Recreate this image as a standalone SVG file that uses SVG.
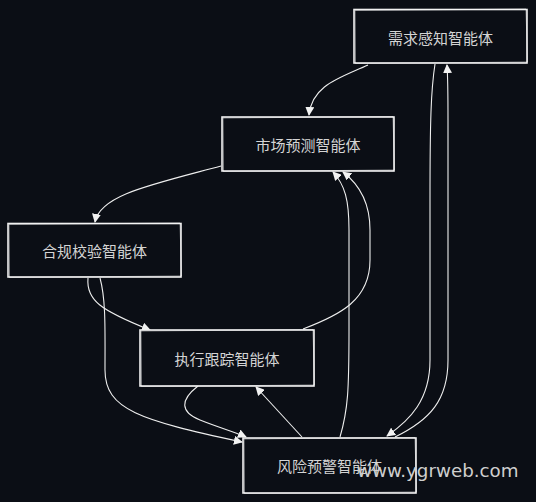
<svg xmlns="http://www.w3.org/2000/svg" width="536" height="502" viewBox="0 0 536 502">
<defs>
<marker id="arr" viewBox="0 0 10 10" refX="9" refY="5" markerWidth="9" markerHeight="9" markerUnits="userSpaceOnUse" orient="auto">
<path d="M0 0 L10 5 L0 10 Z" fill="#f2f2f2"/>
</marker>
<style>
.box{fill:#0b0e15;stroke:#f0f0f0;stroke-width:1.6}
.box2{fill:none;stroke:#ffffff;stroke-width:0.8;opacity:0.6}
.lbl{font-family:"Noto Sans CJK SC","Noto Sans",sans-serif;font-size:15px;fill:#d4d4d4;text-anchor:middle;dominant-baseline:central}
.edge{fill:none;stroke:#eeeeee;stroke-width:1.1;marker-end:url(#arr)}
.wm{font-family:"DejaVu Sans","Liberation Sans",sans-serif;font-size:18.3px;fill:#cfcfcf}
</style>
</defs>
<rect x="0" y="0" width="536" height="502" fill="#0b0e15"/>
<g id="connectors">
<path class="edge" d="M368 65 C 340 78, 312 85, 309 115"/>
<path class="edge" d="M221 166 C 150 185, 100 195, 95 222"/>
<path class="edge" d="M88 278 C 86 300, 100 310, 150 330"/>
<path class="edge" d="M100 278 C 106 300, 105 330, 105 370 C 105 410, 140 420, 242 442"/>
<path class="edge" d="M198 386 C 180 400, 180 412, 200 420 C 220 428, 235 432, 246 437"/>
<path class="edge" d="M302 437 L 256 387"/>
<path class="edge" d="M340 437 C 348 410, 349 390, 349 330 L 349 230 C 349 200, 345 185, 333 172"/>
<path class="edge" d="M303 329 C 340 315, 370 300, 370 260 L 370 230 C 370 205, 360 185, 343 172"/>
<path class="edge" d="M435 64 C 431 90, 430 120, 430 200 L 430 360 C 430 400, 410 420, 387 436"/>
<path class="edge" d="M395 437 C 430 420, 448 400, 448 360 L 448 120 C 448 95, 448 80, 447 65"/>
</g>
<g id="n1">
<rect class="box" x="354" y="9.5" width="173" height="53.5"/>
<path class="box2" d="M355 10.5 L526 9 L527.5 62 L355.5 63.5 Z"/>
<text class="lbl" x="440.5" y="37">需求感知智能体</text>
</g>
<g id="n2">
<rect class="box" x="222" y="117" width="172" height="54"/>
<path class="box2" d="M223 118 L393 116.5 L394.5 170 L223.5 171.5 Z"/>
<text class="lbl" x="308" y="144">市场预测智能体</text>
</g>
<g id="n3">
<rect class="box" x="8" y="223.5" width="173" height="53.5"/>
<path class="box2" d="M9 224.5 L180 223 L181.5 276 L9.5 277.5 Z"/>
<text class="lbl" x="94.5" y="250">合规校验智能体</text>
</g>
<g id="n4">
<rect class="box" x="140" y="330" width="174" height="56"/>
<path class="box2" d="M141 331 L313 329.5 L314.5 385 L141.5 386.5 Z"/>
<text class="lbl" x="227" y="358">执行跟踪智能体</text>
</g>
<g id="n5">
<rect class="box" x="243" y="438" width="173" height="55"/>
<path class="box2" d="M244 439 L415 437.5 L416.5 492 L244.5 493.5 Z"/>
<text class="lbl" x="329.5" y="465">风险预警智能体</text>
</g>
<text class="wm" x="357" y="477">www.ygrweb.com</text>
</svg>
